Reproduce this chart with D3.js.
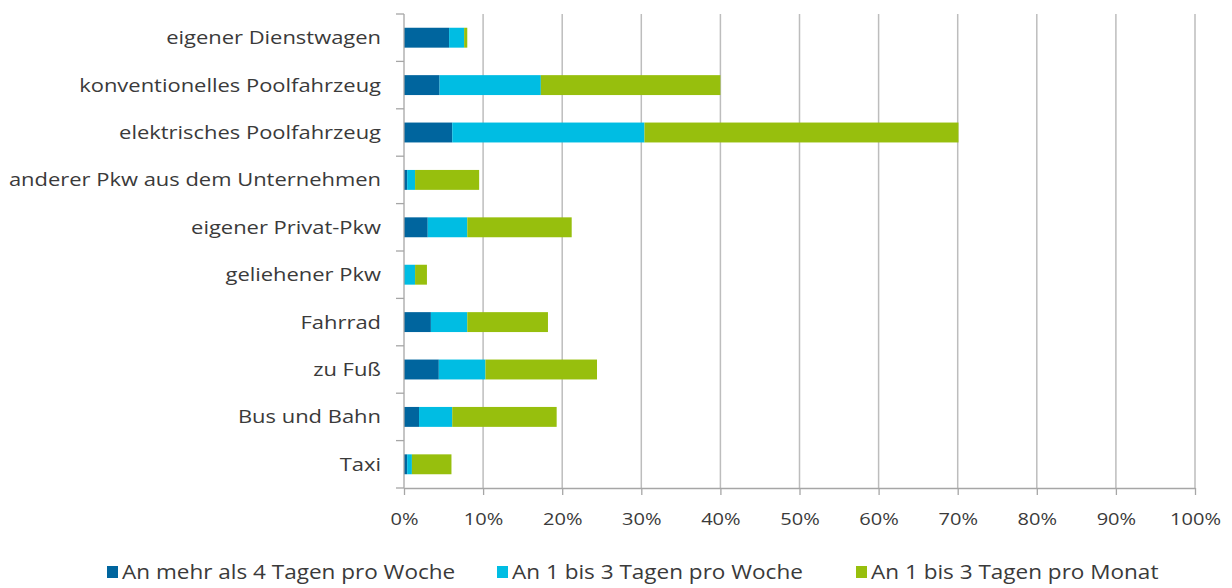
<!DOCTYPE html>
<html>
<head>
<meta charset="utf-8">
<script src="https://cdn.jsdelivr.net/npm/d3@7"></script>
<style>
  html, body { margin: 0; padding: 0; background: #ffffff; }
  svg { display: block; }
  text { font-family: "Open Sans", "Lato", sans-serif; fill: #3a3a3a; }
</style>
</head>
<body>
<svg id="chart" width="1232" height="588"></svg>
<script>
// Verkehrsmittel für Dienstwege, Anteil nach Häufigkeit der Nutzung (in %)
const categories = [
  "eigener Dienstwagen",
  "konventionelles Poolfahrzeug",
  "elektrisches Poolfahrzeug",
  "anderer Pkw aus dem Unternehmen",
  "eigener Privat-Pkw",
  "geliehener Pkw",
  "Fahrrad",
  "zu Fuß",
  "Bus und Bahn",
  "Taxi"
];
const seriesNames = [
  "An mehr als 4 Tagen pro Woche",
  "An 1 bis 3 Tagen pro Woche",
  "An 1 bis 3 Tagen pro Monat"
];
const mehrAls4ProWoche = [5.7, 4.5, 6.1, 0.4, 3.0, 0.0, 3.4, 4.4, 1.9, 0.4];
const einsBis3ProWoche = [1.9, 12.8, 24.3, 1.0, 5.0, 1.4, 4.6, 5.9, 4.2, 0.6];
const einsBis3ProMonat = [0.4, 22.7, 39.7, 8.1, 13.2, 1.5, 10.2, 14.1, 13.2, 5.0];
const xTicks = [0, 10, 20, 30, 40, 50, 60, 70, 80, 90, 100];
const colors = ["#00659e", "#00bde3", "#97bf0d"];

const seriesValues = [mehrAls4ProWoche, einsBis3ProWoche, einsBis3ProMonat];
const rows = categories.map((c, i) => {
  const r = { category: c };
  seriesNames.forEach((s, k) => { r[s] = seriesValues[k][i]; });
  return r;
});

// the labels are set in a slightly widened face
const stretch = 1.18;

const svg = d3.select("#chart");
const margin = { left: 404, right: 37, top: 14, bottom: 100 };
const width = 1232 - margin.left - margin.right;
const height = 588 - margin.top - margin.bottom;

const g = svg.append("g").attr("transform", `translate(${margin.left},${margin.top})`);

const x = d3.scaleLinear().domain([0, 100]).range([0, width]);
const y = d3.scaleBand().domain(categories).range([0, height]).paddingInner(0.58).paddingOuter(0.29);

// vertical gridlines
g.append("g")
  .selectAll("line")
  .data(xTicks.slice(1))
  .join("line")
  .attr("x1", d => x(d)).attr("x2", d => x(d))
  .attr("y1", 0).attr("y2", height)
  .attr("stroke", "#bdbdbd").attr("stroke-width", 1.5);

// stacked bars
const stack = d3.stack().keys(seriesNames);
const layers = stack(rows);

g.append("g")
  .selectAll("g")
  .data(layers)
  .join("g")
  .attr("fill", (d, i) => colors[i])
  .selectAll("rect")
  .data(d => d)
  .join("rect")
  .attr("x", d => x(d[0]))
  .attr("width", d => x(d[1]) - x(d[0]))
  .attr("y", d => y(d.data.category))
  .attr("height", y.bandwidth());

// x axis
const xAxis = g.append("g")
  .attr("transform", `translate(0,${height})`)
  .call(d3.axisBottom(x).tickValues(xTicks).tickFormat(d => d + "%").tickSizeInner(7).tickSizeOuter(0).tickPadding(18));
xAxis.select(".domain").attr("stroke", "#a6a6a6").attr("stroke-width", 1.3);
xAxis.selectAll(".tick line").attr("stroke", "#a6a6a6").attr("stroke-width", 1.3);
xAxis.selectAll(".tick text")
  .style("font-size", "17px")
  .attr("fill", "#3a3a3a")
  .attr("transform", function () {
    const ty = +d3.select(this).attr("y");
    return `translate(0,${ty}) scale(${stretch},1) translate(0,${-ty})`;
  });

// y axis: ticks at band boundaries
const yAxisG = g.append("g");
yAxisG.append("line")
  .attr("x1", 0).attr("x2", 0).attr("y1", 0).attr("y2", height)
  .attr("stroke", "#a6a6a6").attr("stroke-width", 1.3);
const step = y.step();
yAxisG.selectAll("line.tick")
  .data(d3.range(categories.length + 1))
  .join("line")
  .attr("class", "tick")
  .attr("x1", -8).attr("x2", 0)
  .attr("y1", i => i * step).attr("y2", i => i * step)
  .attr("stroke", "#a6a6a6").attr("stroke-width", 1.3);
yAxisG.selectAll("text")
  .data(categories)
  .join("text")
  .attr("transform", d => `translate(-23,${y(d) + y.bandwidth() / 2}) scale(${stretch},1)`)
  .attr("dy", "0.35em")
  .attr("text-anchor", "end")
  .style("font-size", "18.6px")
  .text(d => d);

// legend
const legendX = [107, 497, 856];
const legend = svg.append("g").attr("transform", "translate(0,572)");
const items = legend.selectAll("g")
  .data(seriesNames)
  .join("g")
  .attr("transform", (d, i) => `translate(${legendX[i]},0)`);
items.append("rect")
  .attr("x", 0).attr("y", -6).attr("width", 11).attr("height", 12)
  .attr("fill", (d, i) => colors[i]);
items.append("text")
  .attr("transform", `translate(15,0) scale(${stretch},1)`)
  .attr("dy", "0.35em")
  .style("font-size", "19.1px")
  .text(d => d);
</script>
</body>
</html>
